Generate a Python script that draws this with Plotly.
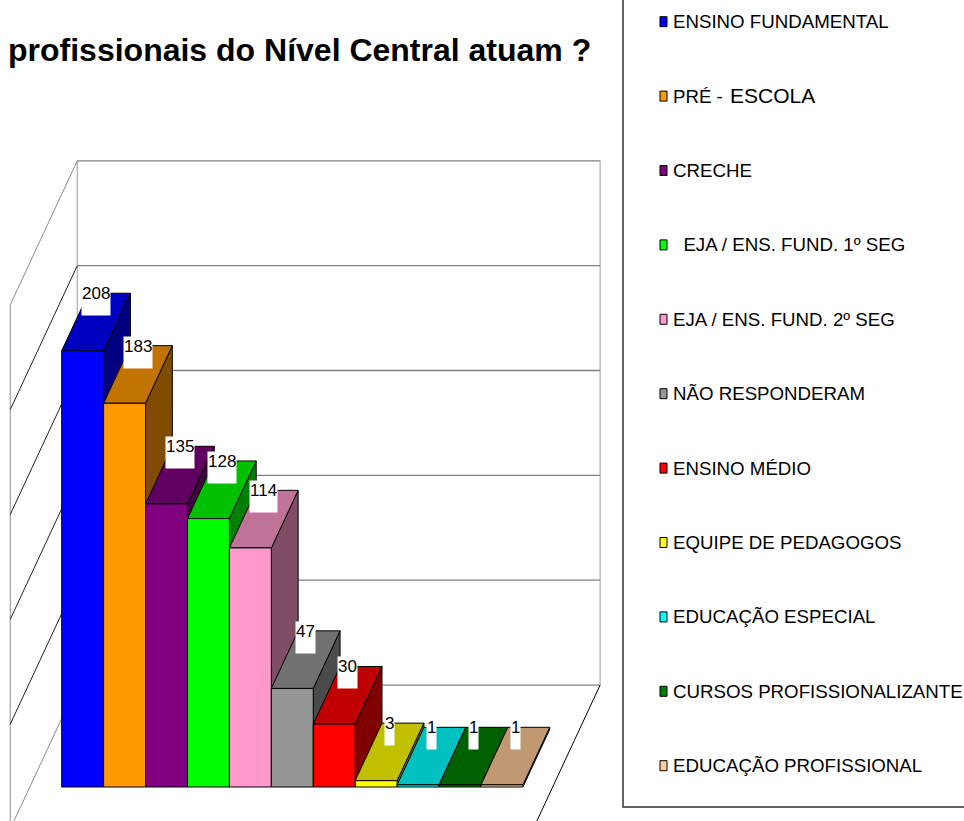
import plotly.graph_objects as go

# ---- data -------------------------------------------------------------
categories = [
    "ENSINO FUNDAMENTAL",
    "PRÉ - ESCOLA",
    "CRECHE",
    "EJA / ENS. FUND. 1º SEG",
    "EJA / ENS. FUND. 2º SEG",
    "NÃO RESPONDERAM",
    "ENSINO MÉDIO",
    "EQUIPE DE PEDAGOGOS",
    "EDUCAÇÃO ESPECIAL",
    "CURSOS PROFISSIONALIZANTE",
    "EDUCAÇÃO PROFISSIONAL",
]
values = [208, 183, 135, 128, 114, 47, 30, 3, 1, 1, 1]

front_colors = ["#0000FF", "#FF9900", "#800080", "#00FF00", "#FF99CC", "#969696",
                "#FF0000", "#FFFF00", "#00FFFF", "#008000", "#FFCC99"]
top_colors = ["#0000C0", "#C07300", "#600060", "#00C000", "#C07399", "#717171",
              "#C00000", "#C0C000", "#00C0C0", "#006000", "#C09973"]
side_colors = ["#000080", "#804D00", "#400040", "#008000", "#804D66", "#4B4B4B",
               "#800000", "#808000", "#008080", "#004000", "#80664D"]

value_ticks = [0, 50, 100, 150, 200, 250]
title_text = "profissionais do Nível Central atuam ?"

# ---- canvas / axis mapping ---------------------------------------------
W, H = 964, 821
PX_PER_X = 41.93          # pixels per category unit
X_ORIGIN_PX = 82.65       # pixel position of first bar centre
PX_PER_V = 2.097          # pixels per value unit
V_ORIGIN_PX = 787.0       # pixel row of value 0 on the bar front plane

x_range = [-X_ORIGIN_PX / PX_PER_X, (W - X_ORIGIN_PX) / PX_PER_X]
y_range = [(V_ORIGIN_PX - H) / PX_PER_V, V_ORIGIN_PX / PX_PER_V]

# oblique depth vector of the whole floor, in axis units
DEPTH_X = 67.0 / PX_PER_X
DEPTH_V = 144.0 / PX_PER_V
BAR_D0, BAR_D1 = 0.292, 0.692     # bar front / back depth
WALL_XL, WALL_XR = -1.26, 11.21   # left / right extent of the floor
V_MAX = value_ticks[-1]

FONT = "Arial, Liberation Sans"


def proj(x, v, d):
    """Project a 3-D point (category x, value v, depth d) onto the axes."""
    return x + (d - BAR_D0) * DEPTH_X, v + (d - BAR_D0) * DEPTH_V


def poly(points):
    xs, ys = zip(*[proj(*p) for p in points])
    return list(xs) + [xs[0]], list(ys) + [ys[0]]


def segments(pairs):
    xs, ys = [], []
    for a, b in pairs:
        (x1, y1), (x2, y2) = proj(*a), proj(*b)
        xs += [x1, x2, None]
        ys += [y1, y2, None]
    return xs, ys


fig = go.Figure()


def add_lines(pairs, color, width=1):
    xs, ys = segments(pairs)
    fig.add_trace(go.Scatter(x=xs, y=ys, mode="lines",
                             line=dict(color=color, width=width),
                             hoverinfo="skip", showlegend=False))


# ---- walls and gridlines -----------------------------------------------
# back wall gridlines
add_lines([((WALL_XL, v, 1), (WALL_XR, v, 1)) for v in value_ticks], "#808080", 1.3)
# back wall vertical edges
add_lines([((WALL_XL, 0, 1), (WALL_XL, V_MAX, 1)),
           ((WALL_XR, 0, 1), (WALL_XR, V_MAX, 1))], "#9a9a9a", 1)
# side wall outline
add_lines([((WALL_XL, V_MAX, 0), (WALL_XL, V_MAX, 1)),
           ((WALL_XL, 0, 0), (WALL_XL, V_MAX, 0)),
           ((WALL_XL, 0, 0), (WALL_XL, 0, 1))], "#8c8c8c", 1)
# side wall gridlines
add_lines([((WALL_XL, v, 0), (WALL_XL, v, 1)) for v in value_ticks[1:-1]], "#202020", 1)
# floor right edge
add_lines([((WALL_XR, 0, 1), (WALL_XR, 0, 0))], "#000000", 1)

# ---- 3-D bars (left to right so each bar hides the previous side) ------
for i, v in enumerate(values):
    x0, x1 = i - 0.5, i + 0.5
    faces = [
        ([(x1, 0, BAR_D0), (x1, 0, BAR_D1), (x1, v, BAR_D1), (x1, v, BAR_D0)], side_colors[i]),
        ([(x0, v, BAR_D0), (x1, v, BAR_D0), (x1, v, BAR_D1), (x0, v, BAR_D1)], top_colors[i]),
        ([(x0, 0, BAR_D0), (x1, 0, BAR_D0), (x1, v, BAR_D0), (x0, v, BAR_D0)], front_colors[i]),
    ]
    for pts, col in faces:
        xs, ys = poly(pts)
        fig.add_trace(go.Scatter(x=xs, y=ys, mode="lines", fill="toself",
                                 fillcolor=col, line=dict(color="#000000", width=1),
                                 name=categories[i], hoverinfo="skip",
                                 showlegend=False))

# ---- value labels (centred over the top face, on its back edge) ---------
for i, v in enumerate(values):
    _, ly = proj(i, v, BAR_D1)
    lx = i + 0.5 * (BAR_D1 - BAR_D0) * DEPTH_X
    fig.add_annotation(x=lx, y=ly, xref="x", yref="y", text=str(v),
                       showarrow=False, xanchor="center", yanchor="top",
                       yshift=10, height=31, valign="top", borderpad=0,
                       bgcolor="#FFFFFF",
                       font=dict(family=FONT, size=17, color="#000000"))

# ---- title -----------------------------------------------------------------
fig.add_annotation(x=6 / W, y=1 - 50 / H, xref="paper", yref="paper",
                   text="<b>" + title_text + "</b>", showarrow=False,
                   xanchor="left", yanchor="middle",
                   font=dict(family=FONT, size=32, color="#000000"))

# ---- legend ----------------------------------------------------------------
LEG_LEFT, LEG_BOTTOM = 623, 807
LEG_Y0, LEG_STEP = 21.7, 74.4
LEG_TEXT_X = 672
fig.add_shape(type="rect", xref="paper", yref="paper",
              x0=LEG_LEFT / W, x1=1.05, y0=1 - LEG_BOTTOM / H, y1=1.05,
              line=dict(color="#303030", width=1.5), fillcolor="rgba(0,0,0,0)")
for k, name in enumerate(categories):
    yc = LEG_Y0 + k * LEG_STEP
    fig.add_shape(type="rect", xref="paper", yref="paper",
                  x0=660 / W, x1=667 / W, y0=1 - (yc + 5) / H, y1=1 - (yc - 5) / H,
                  line=dict(color="#000000", width=1), fillcolor=front_colors[k])
    if name == "PRÉ - ESCOLA":
        head, tail = name.split("ESCOLA")[0], "ESCOLA"
        fig.add_annotation(x=LEG_TEXT_X / W, y=1 - yc / H, xref="paper", yref="paper",
                           text=head, showarrow=False, xanchor="left", yanchor="middle",
                           borderpad=0, font=dict(family=FONT, size=18.7, color="#000000"))
        fig.add_annotation(x=729 / W, y=1 - (yc - 0.5) / H, xref="paper", yref="paper",
                           text=tail, showarrow=False, xanchor="left", yanchor="middle",
                           borderpad=0, font=dict(family=FONT, size=21, color="#000000"))
        continue
    label = name
    if name.startswith("EJA / ENS. FUND. 1"):
        label = "\u00a0\u00a0" + name
    fig.add_annotation(x=LEG_TEXT_X / W, y=1 - yc / H, xref="paper", yref="paper",
                       text=label, showarrow=False, xanchor="left", yanchor="middle",
                       borderpad=0,
                       font=dict(family=FONT, size=18.7, color="#000000"))

fig.update_layout(
    width=W, height=H, autosize=False,
    margin=dict(l=0, r=0, t=0, b=0, pad=0),
    paper_bgcolor="#FFFFFF", plot_bgcolor="#FFFFFF",
    showlegend=False,
    xaxis=dict(range=x_range, visible=False, fixedrange=True),
    yaxis=dict(range=y_range, visible=False, fixedrange=True),
)

fig.write_html("out.html")
